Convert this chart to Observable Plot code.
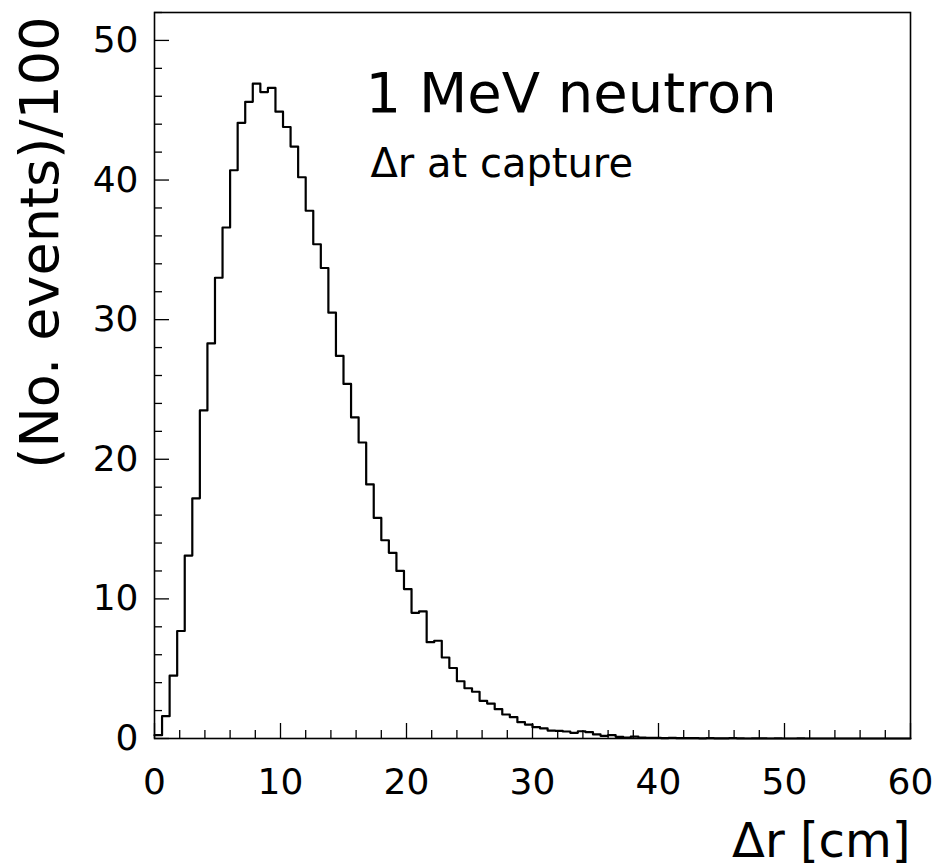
<!DOCTYPE html>
<html><head><meta charset="utf-8">
<script src="https://cdn.jsdelivr.net/npm/d3@7"></script>
<script src="https://cdn.jsdelivr.net/npm/@observablehq/plot@0.6"></script>
<style>body{margin:0;background:#fff}</style>
</head><body><div id="chart"></div>
<script>
// Histogram: 100 bins of 0.6 cm over 0–60 cm
const binWidth = 0.6;
const counts = [
  0.24, 1.6, 4.5, 7.7, 13.1, 17.2, 23.5, 28.3, 33.0, 36.6,
  40.7, 44.1, 45.6, 46.9, 46.3, 46.6, 44.9, 43.8, 42.4, 40.2,
  37.8, 35.4, 33.7, 30.5, 27.4, 25.4, 23.0, 21.2, 18.2, 15.8,
  14.2, 13.3, 12.0, 10.7, 9.0, 9.1, 6.9, 7.0, 5.8, 5.05,
  4.1, 3.6, 3.35, 2.7, 2.5, 2.1, 1.72, 1.53, 1.17, 1.0,
  0.81, 0.72, 0.57, 0.55, 0.5, 0.41, 0.52, 0.45, 0.29, 0.19,
  0.24, 0.12, 0.07, 0.14, 0.07, 0.05, 0.04, 0.03, 0.05, 0.02,
  0.02, 0.03, 0.01, 0.02, 0.01, 0.01, 0.02, 0.01, 0.0, 0.01,
  0.01, 0.0, 0.01, 0.0, 0.0, 0.01, 0.0, 0.0, 0.0, 0.0,
  0.0, 0.0, 0.0, 0.0, 0.0, 0.0, 0.0, 0.0, 0.0, 0.0
];
const xMajor = [0, 10, 20, 30, 40, 50, 60];
const xMinor = [2, 4, 6, 8, 12, 14, 16, 18, 22, 24, 26, 28, 32, 34, 36, 38, 42, 44, 46, 48, 52, 54, 56, 58];
const yMajor = [0, 10, 20, 30, 40, 50];
const yMinor = [2, 4, 6, 8, 12, 14, 16, 18, 22, 24, 26, 28, 32, 34, 36, 38, 42, 44, 46, 48, 52];
const titleText = "1 MeV neutron";
const subtitleText = "\u0394r at capture";
const xLabel = "\u0394r [cm]";
const yLabel = "(No. events)/100";

const steps = counts.map((v, i) => ({x: i * binWidth, y: v}));
steps.push({x: counts.length * binWidth, y: counts[counts.length - 1]});

const W = 939, H = 867, mL = 154, mR = 29, mT = 12, mB = 129;
const pw = W - mL - mR, ph = H - mT - mB;
const font = "DejaVu Sans";

const chart = Plot.plot({
  width: W, height: H,
  marginLeft: mL, marginRight: mR, marginTop: mT, marginBottom: mB,
  style: {fontFamily: font, background: "white", color: "black"},
  x: {domain: [0, 60]},
  y: {domain: [0, 52]},
  marks: [
    Plot.ruleY(yMajor, {y: d => d, insetRight: pw - 15, stroke: "black", strokeWidth: 1.3}),
    Plot.ruleY(yMinor, {y: d => d, insetRight: pw - 8, stroke: "black", strokeWidth: 1.3}),
    Plot.ruleX(xMajor, {x: d => d, insetTop: ph - 15, stroke: "black", strokeWidth: 1.3}),
    Plot.ruleX(xMinor, {x: d => d, insetTop: ph - 8, stroke: "black", strokeWidth: 1.3}),
    Plot.axisX(xMajor, {tickSize: 0, tickPadding: 30, fontSize: 36, label: null}),
    Plot.axisY(yMajor, {tickSize: 0, tickPadding: 16, fontSize: 36, label: null}),
    Plot.line(steps, {x: "x", y: "y", curve: "step-after", stroke: "black", strokeWidth: 2.2}),
    Plot.frame({stroke: "black", strokeWidth: 1.6}),
    Plot.text([titleText], {frameAnchor: "top-left", dx: 365 - mL, dy: 72 - mT, textAnchor: "start", lineAnchor: "top", fontSize: 56, fill: "black"}),
    Plot.text([subtitleText], {frameAnchor: "top-left", dx: 370 - mL, dy: 148 - mT, textAnchor: "start", lineAnchor: "top", fontSize: 40, fill: "black"}),
    Plot.text([xLabel], {frameAnchor: "bottom-right", dx: 0, dy: 118, textAnchor: "end", lineAnchor: "bottom", fontSize: 48, fill: "black"}),
    Plot.text([yLabel], {frameAnchor: "top-left", dx: 40 - mL, dy: 16 - mT, rotate: -90, textAnchor: "end", lineAnchor: "middle", fontSize: 54, fill: "black"})
  ]
});
document.getElementById("chart").appendChild(chart);
</script>
</body></html>
